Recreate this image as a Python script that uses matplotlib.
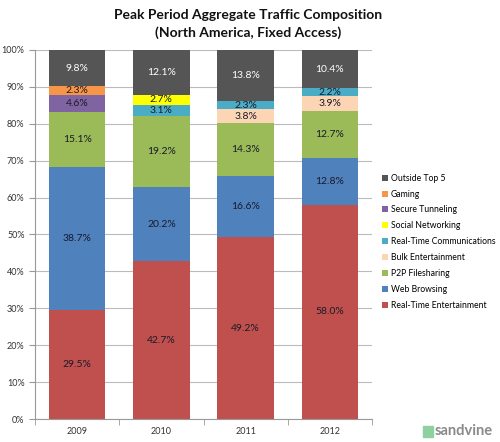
import numpy as np
import matplotlib.pyplot as plt
from matplotlib.patches import Rectangle

plt.rcParams['font.family'] = ['Lato', 'DejaVu Sans']

years = ['2009', '2010', '2011', '2012']
categories = ['Real-Time Entertainment', 'Web Browsing', 'P2P Filesharing',
              'Bulk Entertainment', 'Real-Time Communications', 'Social Networking',
              'Secure Tunneling', 'Gaming', 'Outside Top 5']
rte = [29.5, 42.7, 49.2, 58.0]
web = [38.7, 20.2, 16.6, 12.8]
p2p = [15.1, 19.2, 14.3, 12.7]
bulk = [0, 0, 3.8, 3.9]
rtc = [0, 3.1, 2.3, 2.2]
social = [0, 2.7, 0, 0]
tunnel = [4.6, 0, 0, 0]
gaming = [2.3, 0, 0, 0]
outside = [9.8, 12.1, 13.8, 10.4]
series = [rte, web, p2p, bulk, rtc, social, tunnel, gaming, outside]
colors = ['#C0504D', '#4F81BD', '#9BBB59', '#FCD5B5', '#4BACC6', '#FFFF00',
          '#8064A2', '#F79646', '#555555']

fig = plt.figure(figsize=(5, 4.42), dpi=100)
ax = fig.add_axes([0.07, 0.052, 0.674, 0.835])

x = np.arange(len(years))
bottom = np.zeros(len(years))
handles = []
for name, vals, c in zip(categories, series, colors):
    vals = np.array(vals)
    b = ax.bar(x, vals, 0.67, bottom=bottom, color=c, label=name, zorder=2)
    handles.append(b)
    for i, v in enumerate(vals):
        if v > 0:
            tc = 'white' if name == 'Outside Top 5' else '#1a1a2a'
            ax.text(x[i], bottom[i] + v / 2, f'{v:.1f}%', ha='center', va='center',
                    fontsize=7.5, color=tc, zorder=3)
    bottom += vals

ax.set_xlim(-0.5, 3.5)
ax.set_ylim(0, 100)
ax.set_yticks(np.arange(0, 101, 10))
ax.set_yticklabels([f'{v}%' for v in range(0, 101, 10)], fontsize=6.5, color='#333333')
ax.yaxis.grid(True, color='#bbbbbb', lw=0.8, zorder=0)
ax.set_xticks(x)
ax.set_xticklabels(years, fontsize=6.5, color='#333333')
ax.tick_params(axis='x', length=0, pad=6)
ax.set_xticks(np.arange(-0.5, 3.6, 1), minor=True)
ax.tick_params(axis='x', which='minor', length=4, color='#999999')
ax.tick_params(axis='y', length=4, color='#999999')
for s in ['top', 'right']:
    ax.spines[s].set_visible(False)
ax.spines['left'].set_color('#999999')
ax.spines['bottom'].set_color('#999999')

fig.text(0.496, 0.965, 'Peak Period Aggregate Traffic Composition', ha='center',
         va='center', fontsize=10, fontweight='bold', color='#111111')
fig.text(0.496, 0.927, '(North America, Fixed Access)', ha='center',
         va='center', fontsize=10, fontweight='bold', color='#111111')

leg = fig.legend(handles[::-1], categories[::-1], loc='upper left',
                 bbox_to_anchor=(0.763, 0.607), frameon=False, fontsize=6.2,
                 handlelength=0.7, handleheight=0.7, handletextpad=0.35,
                 labelspacing=0.8, borderaxespad=0, borderpad=0)

fig.patches.append(Rectangle((0.846, 0.012), 0.02, 0.024, transform=fig.transFigure,
                             color='#8fd0a0', zorder=5))
fig.text(0.87, 0.024, 'sandvine', ha='left', va='center', fontsize=10.5,
         color='#8a8a8a', fontweight='bold')

fig.savefig('out.png', dpi=100)
